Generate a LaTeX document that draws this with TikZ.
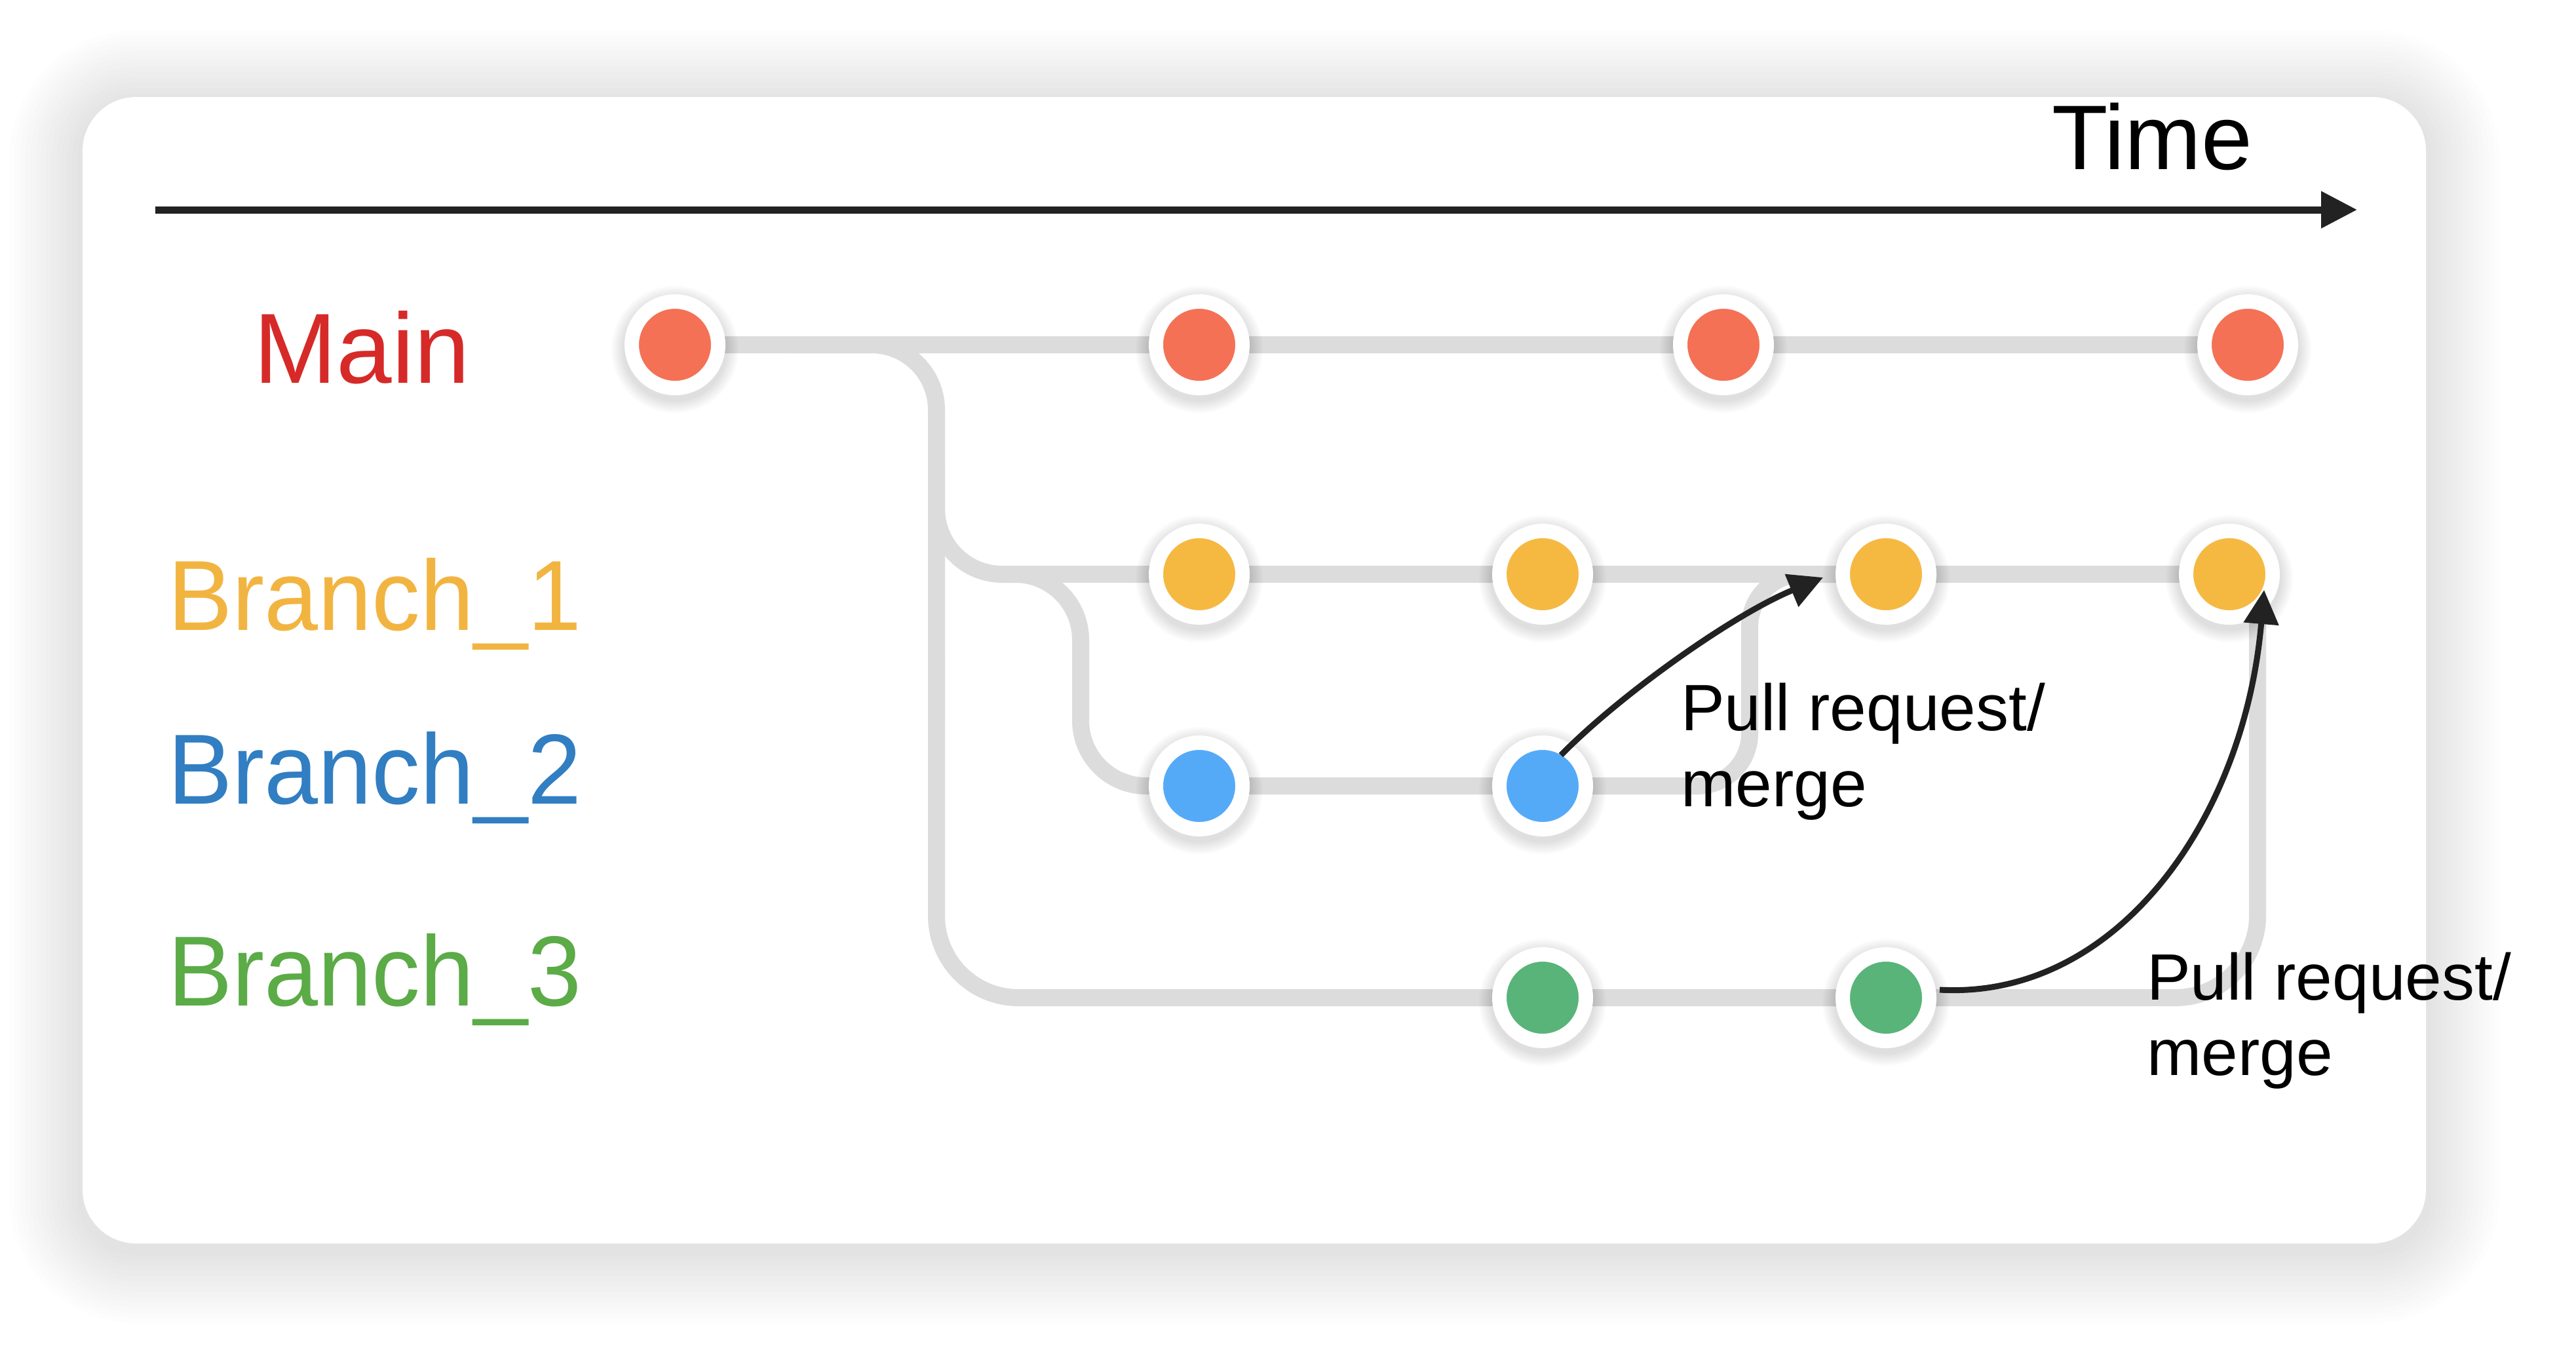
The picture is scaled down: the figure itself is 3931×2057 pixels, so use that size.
\documentclass[tikz,border=0pt]{standalone}
\usepackage{fontspec}
\setmainfont{Liberation Sans}
\newfontfamily\branchfont[FakeStretch=0.97]{Liberation Sans}
\usetikzlibrary{arrows.meta}
\definecolor{linegray}{HTML}{DCDCDC}
\definecolor{arrowblack}{HTML}{222222}
\definecolor{dotred}{HTML}{F47155}
\definecolor{dotyellow}{HTML}{F5B942}
\definecolor{dotblue}{HTML}{55AAF8}
\definecolor{dotgreen}{HTML}{58B478}
\definecolor{txtred}{HTML}{D62A28}
\definecolor{txtyellow}{HTML}{F2B441}
\definecolor{txtblue}{HTML}{317EC2}
\definecolor{txtgreen}{HTML}{5BAB47}
\begin{document}
\begin{tikzpicture}[x=1pt,y=-1pt,
  gl/.style={draw=linegray, line width=26pt},
  commit/.style={circle, minimum size=132pt, inner sep=0pt, line width=22pt, draw=white, fill=#1},
  lbl/.style={inner sep=0pt, anchor=base west, font=\fontsize{152}{160}\selectfont},
  blbl/.style={inner sep=0pt, anchor=base west, font=\branchfont\fontsize{152}{160}\selectfont},
  prl/.style={inner sep=0pt, anchor=base west, font=\fontsize{100}{116}\selectfont, text=black},
  pr/.style={draw=arrowblack, line width=9pt, -{Triangle[length=52pt,width=52pt]}}
]
\useasboundingbox (0,0) rectangle (3931,2057);
\fill[white] (0,0) rectangle (3931,2057);
% card shadow
\foreach \i in {1,...,14}{
  \pgfmathsetmacro\e{8*\i}
  \pgfmathsetmacro\rr{82+8*\i}
  \fill[black, fill opacity=0.0065, rounded corners=\rr pt] (126-\e,158-\e) rectangle (3702+\e,1907+\e);
}
% card
\fill[white, rounded corners=82pt] (126,148) rectangle (3702,1897);

% time axis
\coordinate (ts) at (237,320);
\coordinate (te) at (3597,320);
\draw[arrowblack, line width=11pt, -{Triangle[length=55pt,width=54pt]}] (ts) -- (te);
\node[inner sep=0pt, anchor=base west, font=\fontsize{140}{150}\selectfont] (time) at (3131,258) {Time};

% commit positions
\coordinate (m1) at (1030,526);
\coordinate (m2) at (1830,526);
\coordinate (m3) at (2630,526);
\coordinate (m4) at (3430,526);
\coordinate (a1) at (1830,876);
\coordinate (a2) at (2354,876);
\coordinate (a3) at (2878,876);
\coordinate (a4) at (3402,876);
\coordinate (b1) at (1830,1199);
\coordinate (b2) at (2354,1199);
\coordinate (c1) at (2354,1522);
\coordinate (c2) at (2878,1522);

% gray branch lines
\draw[gl] (m1) -- (m4);
\draw[gl, rounded corners=99pt] (1200,526) -- (1429,526) -- (1429,1100);
\draw[gl, rounded corners=125pt] (1429,1000) -- (1429,1522) -- (3445,1522) -- (3445,876);
\draw[gl, rounded corners=100pt] (1429,700) -- (1429,876) -- (a4);
\draw[gl, rounded corners=100pt] (1530,876) -- (1649,876) -- (1649,1199) -- (b2);
\draw[gl, rounded corners=80pt] (b2) -- (2670,1199) -- (2670,876) -- (a3);

% dot shadows
\foreach \c in {m1,m2,m3,m4,a1,a2,a3,a4,b1,b2,c1,c2}{
  \foreach \k in {1,...,8}{
    \fill[black, fill opacity=0.016] ([yshift=-7pt]\c) circle[radius={(77+2.5*\k)*1pt}];
  }
}

% commits
\node[commit=dotred] (main1) at (m1) {};
\node[commit=dotred] (main2) at (m2) {};
\node[commit=dotred] (main3) at (m3) {};
\node[commit=dotred] (main4) at (m4) {};
\node[commit=dotyellow] (br1a) at (a1) {};
\node[commit=dotyellow] (br1b) at (a2) {};
\node[commit=dotyellow] (br1c) at (a3) {};
\node[commit=dotyellow] (br1d) at (a4) {};
\node[commit=dotblue] (br2a) at (b1) {};
\node[commit=dotblue] (br2b) at (b2) {};
\node[commit=dotgreen] (br3a) at (c1) {};
\node[commit=dotgreen] (br3b) at (c2) {};

% labels
\node[lbl, text=txtred] (lmain) at (387,584) {Main};
\node[blbl, text=txtyellow] (lb1) at (256,961) {Branch\_1};
\node[blbl, text=txtblue] (lb2) at (256,1226) {Branch\_2};
\node[blbl, text=txtgreen] (lb3) at (256,1534) {Branch\_3};

% pull request arrows
\draw[pr] ([shift={(28,-47)}]br2b.center) .. controls +(88,-90) and +(-140,58) .. ([shift={(-96,5)}]br1c.center);
\draw[pr] ([shift={(82,-12)}]br3b.center) .. controls +(270,15) and +(-30,350) .. ([shift={(53,24)}]br1d.center);

\node[prl] (pr1a) at (2565,1114) {Pull request/};
\node[prl] (pr1b) at (2565,1230) {merge};
\node[prl] (pr2a) at (3276,1525) {Pull request/};
\node[prl] (pr2b) at (3276,1640) {merge};
\end{tikzpicture}
\end{document}
